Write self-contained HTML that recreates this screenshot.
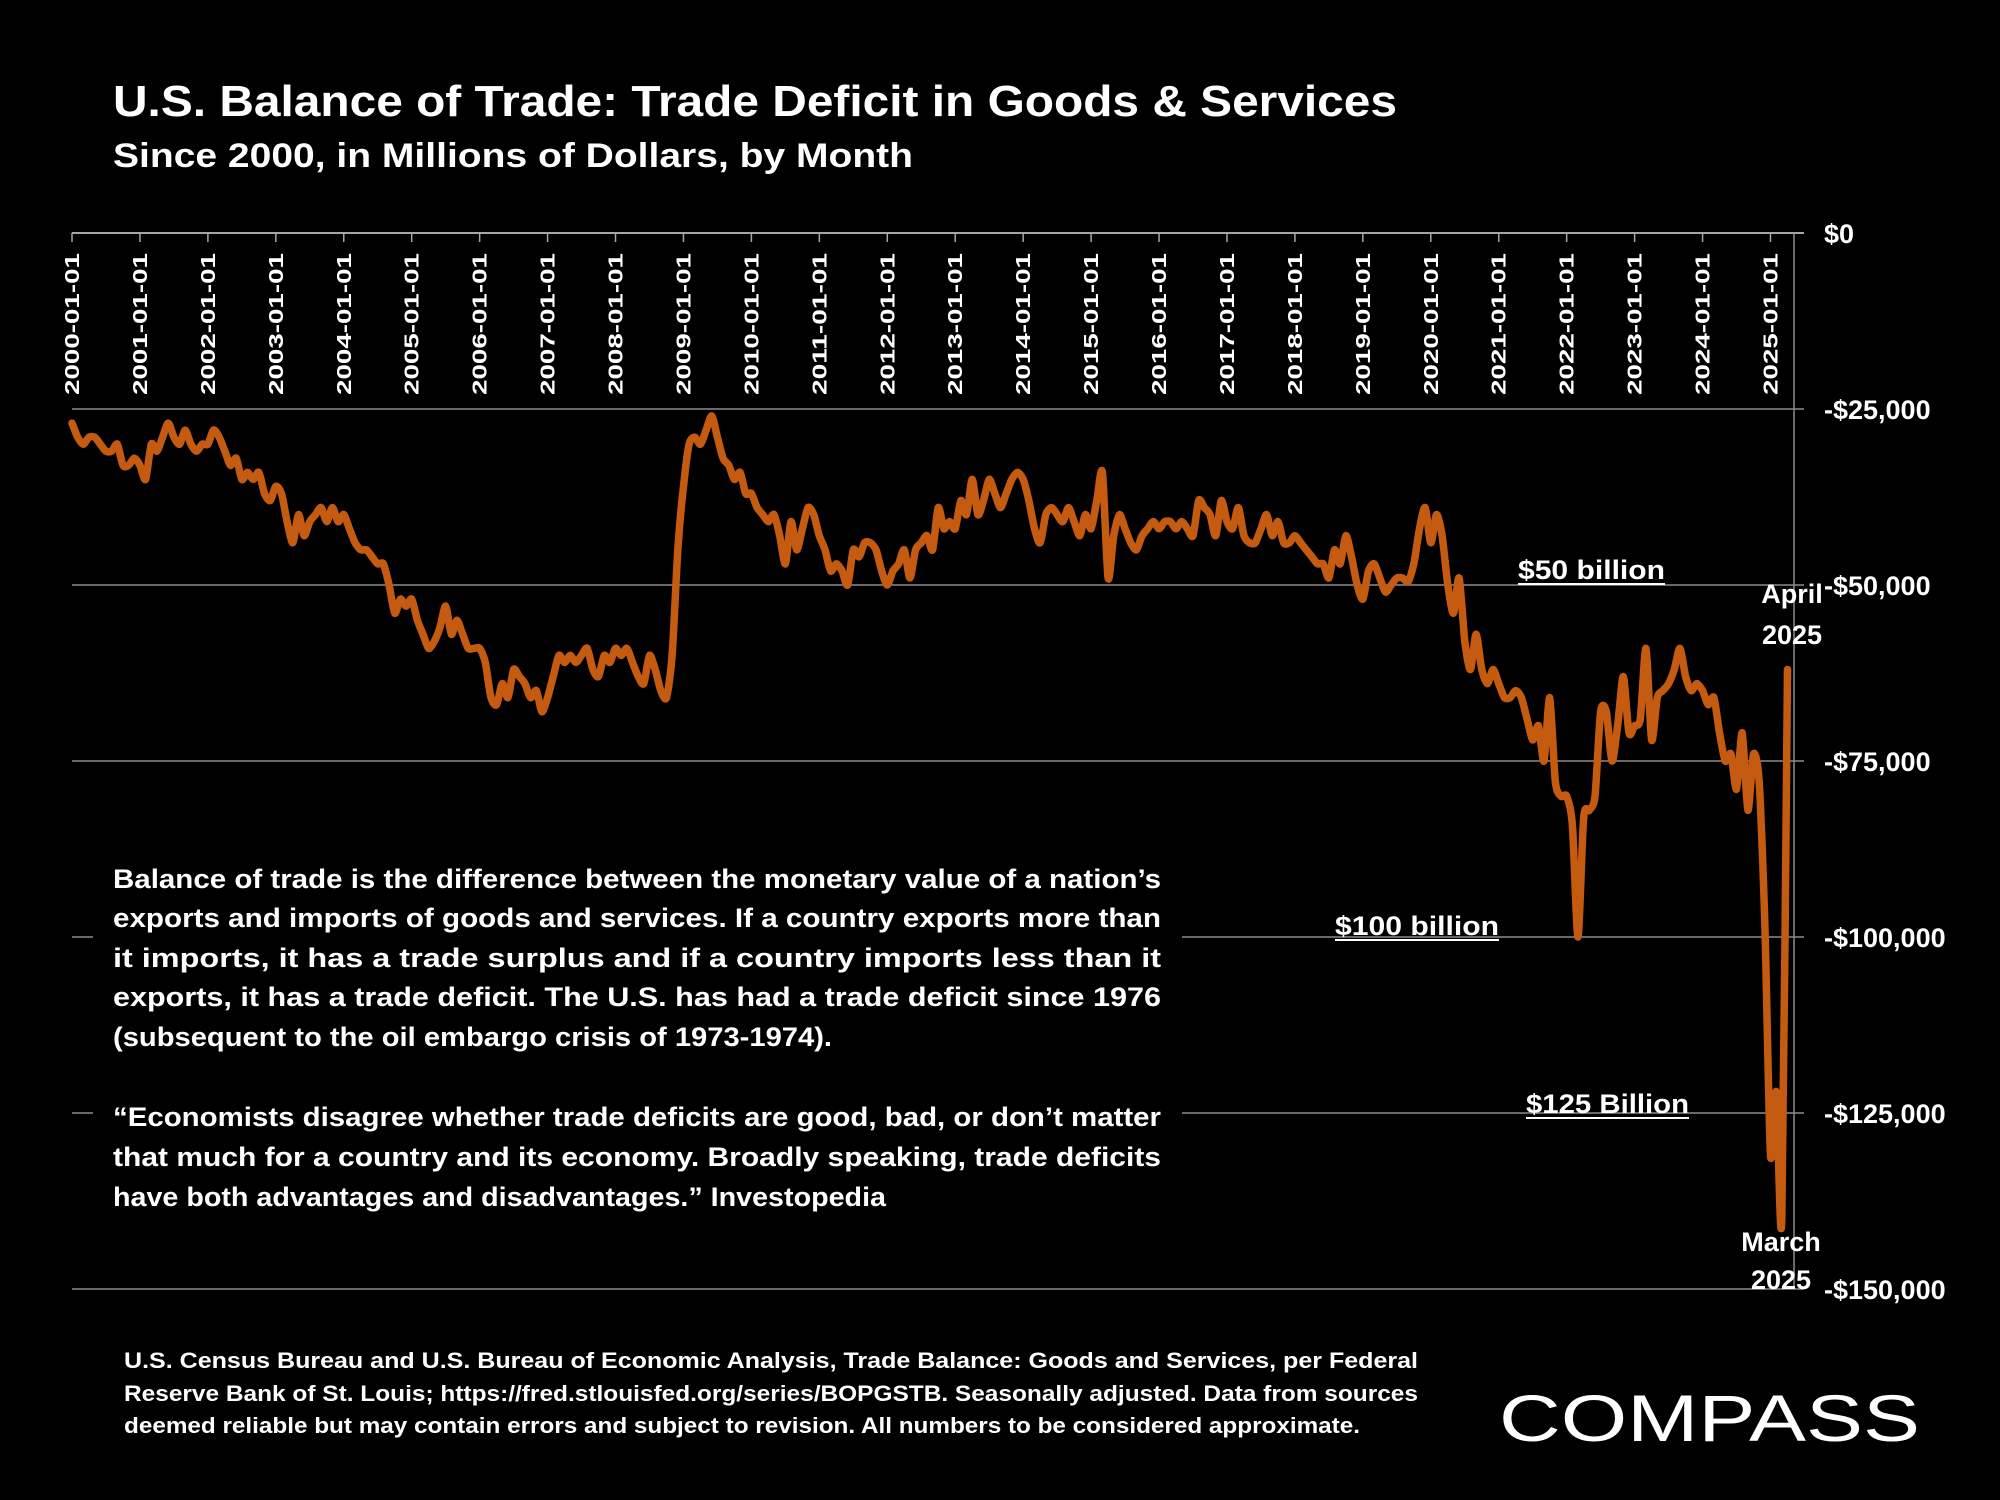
<!DOCTYPE html>
<html><head><meta charset="utf-8"><style>
html,body{margin:0;padding:0;background:#000;}
svg{display:block;font-family:"Liberation Sans",sans-serif;}
</style></head><body>
<svg id="chart" width="2000" height="1500" viewBox="0 0 2000 1500" xmlns="http://www.w3.org/2000/svg">
<rect width="2000" height="1500" fill="#000"/>
<text x="113" y="116" fill="#fff" font-weight="bold" font-size="44" textLength="1284" lengthAdjust="spacingAndGlyphs">U.S. Balance of Trade:  Trade Deficit in Goods &amp; Services</text>
<text x="113" y="167" fill="#fff" font-weight="bold" font-size="34" textLength="800" lengthAdjust="spacingAndGlyphs">Since 2000, in Millions of Dollars, by Month</text>
<g id="grid"></g>
<g id="xlabels"></g>
<g id="ylabels"></g>
<g id="series"></g>
<rect x="93" y="850" width="1089" height="380" fill="#000"/>
<g fill="#fff" font-weight="bold" font-size="27">
<text x="113" y="888" textLength="1048" lengthAdjust="spacingAndGlyphs">Balance of trade is the difference between the monetary value of a nation’s</text>
<text x="113" y="927" textLength="1048" lengthAdjust="spacingAndGlyphs">exports and imports of goods and services. If a country exports more than</text>
<text x="113" y="967" textLength="1048" lengthAdjust="spacingAndGlyphs">it imports, it has a trade surplus and if a country imports less than it</text>
<text x="113" y="1006" textLength="1048" lengthAdjust="spacingAndGlyphs">exports, it has a trade deficit. The U.S. has had a trade deficit since 1976</text>
<text x="113" y="1046" textLength="719" lengthAdjust="spacingAndGlyphs">(subsequent to the oil embargo crisis of 1973-1974).</text>
<text x="113" y="1126" textLength="1048" lengthAdjust="spacingAndGlyphs">“Economists disagree whether trade deficits are good, bad, or don’t matter</text>
<text x="113" y="1166" textLength="1048" lengthAdjust="spacingAndGlyphs">that much for a country and its economy. Broadly speaking, trade deficits</text>
<text x="113" y="1206" textLength="773" lengthAdjust="spacingAndGlyphs">have both advantages and disadvantages.” Investopedia</text>
</g>
<g fill="#fff" font-weight="bold" font-size="27">
<text x="1518" y="579" textLength="147" lengthAdjust="spacingAndGlyphs">$50 billion</text>
<rect x="1518" y="583" width="147" height="2" fill="#fff"/>
<text x="1335" y="935" textLength="164" lengthAdjust="spacingAndGlyphs">$100 billion</text>
<rect x="1335" y="939" width="164" height="2" fill="#fff"/>
<text x="1526" y="1113" textLength="163" lengthAdjust="spacingAndGlyphs">$125 Billion</text>
<rect x="1526" y="1117" width="163" height="2" fill="#fff"/>
<text x="1792" y="603" text-anchor="middle">April</text>
<text x="1792" y="644" text-anchor="middle">2025</text>
<text x="1781" y="1251" text-anchor="middle">March</text>
<text x="1781" y="1289" text-anchor="middle">2025</text>
</g>
<g fill="#fff" font-weight="bold" font-size="22">
<text x="124" y="1368" textLength="1294" lengthAdjust="spacingAndGlyphs">U.S. Census Bureau and U.S. Bureau of Economic Analysis, Trade Balance: Goods and Services, per Federal</text>
<text x="124" y="1401" textLength="1294" lengthAdjust="spacingAndGlyphs">Reserve Bank of St. Louis; https://fred.stlouisfed.org/series/BOPGSTB. Seasonally adjusted. Data from sources</text>
<text x="124" y="1433" textLength="1236" lengthAdjust="spacingAndGlyphs">deemed reliable but may contain errors and subject to revision. All numbers to be considered approximate.</text>
</g>
<text x="1499" y="1441" fill="#fff" font-size="66" textLength="421" lengthAdjust="spacingAndGlyphs">COMPASS</text>
</svg>
<script>
const yTicks = [0, -25000, -50000, -75000, -100000, -125000, -150000];
const yTickLabels = ["$0","-$25,000","-$50,000","-$75,000","-$100,000","-$125,000","-$150,000"];
const xYears = [2000,2001,2002,2003,2004,2005,2006,2007,2008,2009,2010,2011,2012,2013,2014,2015,2016,2017,2018,2019,2020,2021,2022,2023,2024,2025];
const startYear = 2000;
// monthly trade balance, in billions (x1000 = millions)
const values = [
-27,-29,-30,-29,-29,-30,-31,-31,-30,-33,-33,-32,
-33,-35,-30,-31,-29,-27,-29,-30,-28,-30,-31,-30,
-30,-28,-29,-31,-33,-32,-35,-34,-35,-34,-37,-38,
-36,-37,-41,-44,-40,-43,-41,-40,-39,-41,-39,-41,
-40,-42,-44,-45,-45,-46,-47,-47,-50,-54,-52,-53,
-52,-55,-57,-59,-58,-56,-53,-57,-55,-57,-59,-59,
-59,-61,-66,-67,-64,-66,-62,-63,-64,-66,-65,-68,
-66,-63,-60,-61,-60,-61,-60,-59,-62,-63,-60,-61,
-59,-60,-59,-61,-63,-64,-60,-62,-65,-66,-60,-45,
-36,-30,-29,-30,-28,-26,-29,-32,-33,-35,-34,-37,
-37,-39,-40,-41,-40,-43,-47,-41,-45,-42,-39,-40,
-43,-45,-48,-47,-48,-50,-45,-46,-44,-44,-45,-48,
-50,-48,-47,-45,-49,-45,-44,-43,-45,-39,-42,-41,
-42,-38,-40,-35,-40,-38,-35,-37,-39,-37,-35,-34,
-35,-38,-42,-44,-40,-39,-40,-41,-39,-41,-43,-40,
-42,-38,-34,-49,-43,-40,-42,-44,-45,-43,-42,-41,
-42,-41,-41,-42,-41,-42,-43,-38,-39,-40,-43,-38,
-41,-42,-39,-43,-44,-44,-42,-40,-43,-41,-44,-44,
-43,-44,-45,-46,-47,-47,-49,-45,-47,-43,-46,-50,
-52,-48,-47,-49,-51,-50,-49,-49,-49.5,-47,-42,-39,
-44,-40,-43,-50,-54,-49,-58,-62,-57,-62,-64,-62,
-64,-66,-66,-65,-66,-69,-72,-70,-75,-66,-78,-80,
-80,-84,-100,-83,-82,-80,-68,-68,-75,-70,-63,-71,
-70,-69,-59,-72,-66,-65,-64,-62,-59,-63,-65,-64,
-65,-67,-66,-71,-75,-74,-79,-71,-82,-74,-78,-98,
-131,-122,-140,-62
];
const X0 = 72, PX_PER_YEAR = 67.94, Y0 = 233, PX_PER_25K = 176, XRIGHT = 1794;
function xScale(monthIndex){ return X0 + monthIndex * PX_PER_YEAR / 12; }
function yScale(v){ return Y0 + (-v) / 25000 * PX_PER_25K; }
const NS = "http://www.w3.org/2000/svg";
const grid = document.getElementById('grid');
const ylab = document.getElementById('ylabels');
const xlab = document.getElementById('xlabels');
const series = document.getElementById('series');
yTicks.forEach((t, i) => {
  const y = yScale(t);
  const ln = document.createElementNS(NS, 'line');
  
  
  ln.setAttribute('x1', X0); ln.setAttribute('x2', XRIGHT + 10);
  ln.setAttribute('y1', y); ln.setAttribute('y2', y);
  ln.setAttribute('stroke', i === 0 ? '#a6a6a6' : '#8c8c8c');
  ln.setAttribute('stroke-width', i === 0 ? 2 : 1.5);
  grid.appendChild(ln);
  const tx = document.createElementNS(NS, 'text');
  
  
  tx.setAttribute('x', 1824); tx.setAttribute('y', y + 10);
  tx.setAttribute('fill', '#fff'); tx.setAttribute('font-weight', 'bold'); tx.setAttribute('font-size', '27');
  tx.textContent = yTickLabels[i];
  ylab.appendChild(tx);
});
const axisV = document.createElementNS(NS, 'line');


axisV.setAttribute('x1', XRIGHT); axisV.setAttribute('x2', XRIGHT);
axisV.setAttribute('y1', Y0); axisV.setAttribute('y2', yScale(-150000));
axisV.setAttribute('stroke', '#8c8c8c'); axisV.setAttribute('stroke-width', 1.5);
grid.appendChild(axisV);
xYears.forEach(yr => {
  const x = xScale((yr - startYear) * 12);
  const tk = document.createElementNS(NS, 'line');
  
  
  tk.setAttribute('x1', x); tk.setAttribute('x2', x);
  tk.setAttribute('y1', Y0); tk.setAttribute('y2', Y0 + 9);
  tk.setAttribute('stroke', '#a6a6a6'); tk.setAttribute('stroke-width', 1.5);
  grid.appendChild(tk);
  const tx = document.createElementNS(NS, 'text');
  
  
  tx.setAttribute('transform', 'translate(' + (x + 7) + ',395) rotate(-90)');
  tx.setAttribute('fill', '#fff'); tx.setAttribute('font-weight', 'bold'); tx.setAttribute('font-size', '20');
  tx.setAttribute('textLength', '142'); tx.setAttribute('lengthAdjust', 'spacingAndGlyphs');
  tx.textContent = yr + '-01-01';
  xlab.appendChild(tx);
});
const pts = values.map((v, i) => [xScale(i), yScale(v * 1000)]);
let d = 'M' + pts[0][0].toFixed(1) + ',' + pts[0][1].toFixed(1);
const K = 8;
for (let i = 0; i < pts.length - 1; i++) {
  const p0 = pts[Math.max(0, i - 1)], p1 = pts[i], p2 = pts[i + 1], p3 = pts[Math.min(pts.length - 1, i + 2)];
  const c1x = p1[0] + (p2[0] - p0[0]) / K, c1y = p1[1] + (p2[1] - p0[1]) / K;
  const c2x = p2[0] - (p3[0] - p1[0]) / K, c2y = p2[1] - (p3[1] - p1[1]) / K;
  d += 'C' + c1x.toFixed(1) + ',' + c1y.toFixed(1) + ' ' + c2x.toFixed(1) + ',' + c2y.toFixed(1) + ' ' + p2[0].toFixed(1) + ',' + p2[1].toFixed(1);
}
const path = document.createElementNS(NS, 'path');


path.setAttribute('d', d);
path.setAttribute('fill', 'none');
path.setAttribute('stroke', '#c55a11');
path.setAttribute('stroke-width', '7.5');
path.setAttribute('stroke-linejoin', 'round');
path.setAttribute('stroke-linecap', 'round');
series.appendChild(path);
</script>
</body></html>
